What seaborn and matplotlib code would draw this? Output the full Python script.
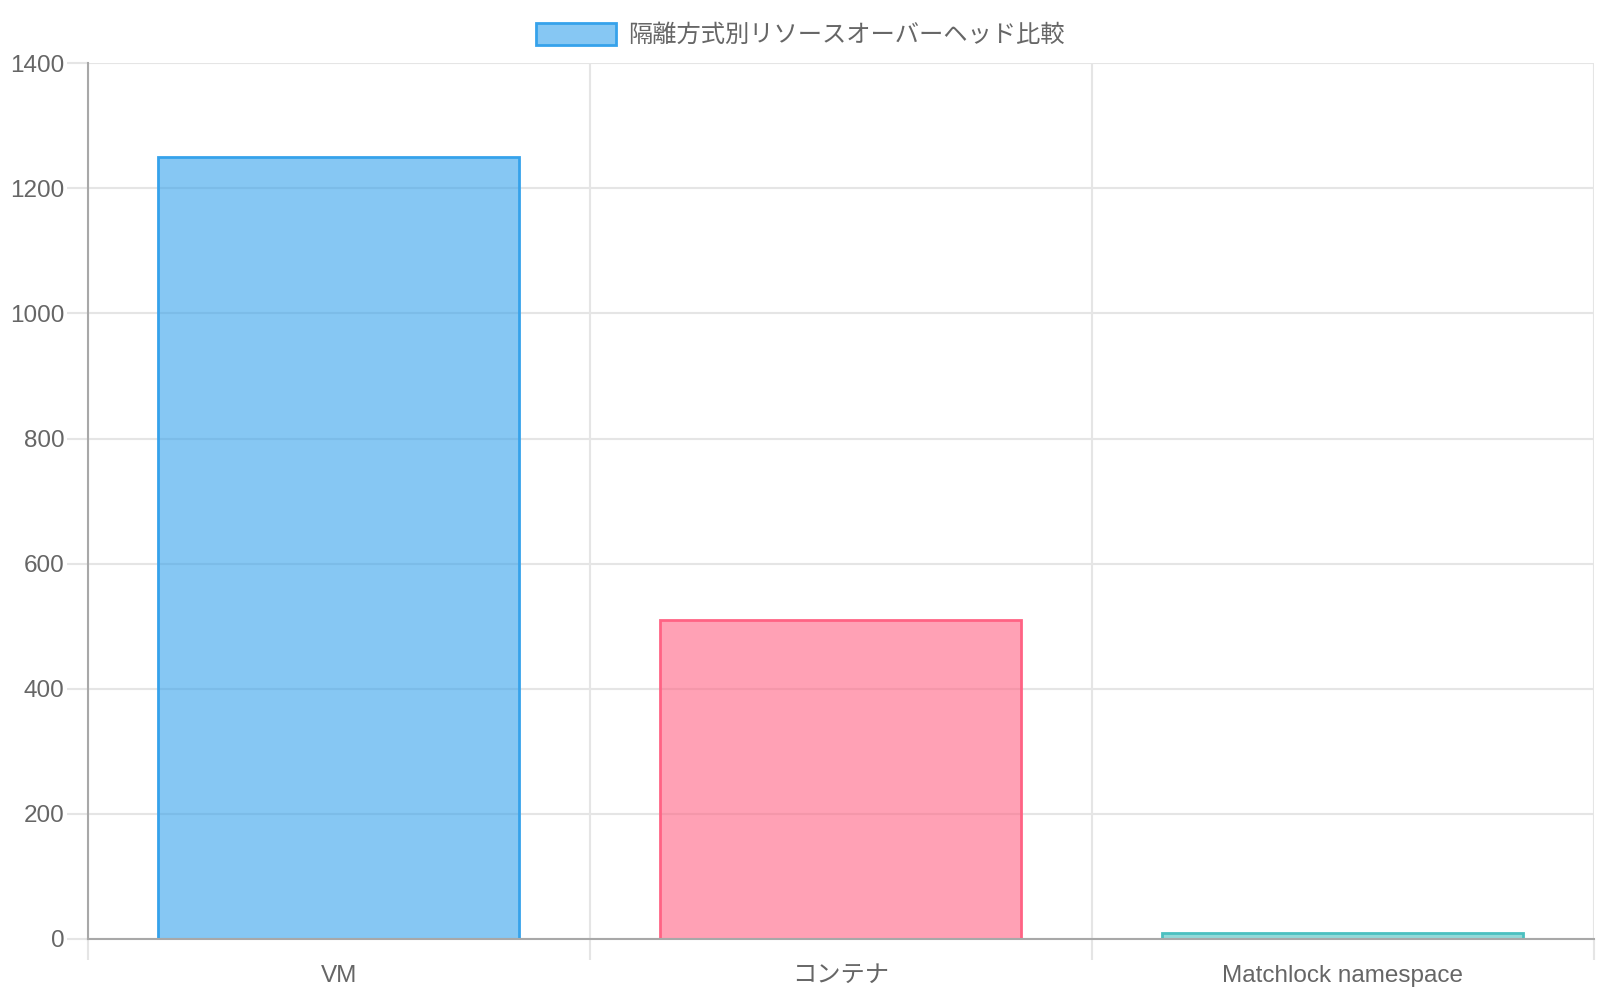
import matplotlib
matplotlib.use("Agg")
import matplotlib.pyplot as plt
import seaborn as sns
import pandas as pd
from matplotlib.colors import to_rgba
from matplotlib.patches import Patch
from matplotlib.ticker import FixedLocator

# Data
categories = ["VM", "コンテナ", "Matchlock namespace"]
values = [1250, 510, 10]
dataset_label = "隔離方式別リソースオーバーヘッド比較"

# Chart.js-like colours (fill at 0.6 alpha, solid border)
base_colors = ["#36A2EB", "#FF6384", "#4BC0C0"]

sns.set_theme(style="white")
plt.rcParams["font.family"] = ["Liberation Sans", "Noto Sans CJK JP", "DejaVu Sans"]

text_color = "#666666"
grid_color = "#E5E5E5"
axis_color = "#A8A8A8"
fs = 17.5

df = pd.DataFrame({"category": categories, "value": values})

fig = plt.figure(figsize=(16, 10), dpi=100)
ax = fig.add_axes([0.0549, 0.0612, 0.9411, 0.8755])

sns.barplot(data=df, x="category", y="value", hue="category",
            palette=base_colors, legend=False, width=0.72,
            saturation=1, ax=ax)
for patch, c in zip(ax.patches, base_colors):
    patch.set_alpha(None)
    patch.set_facecolor(to_rgba(c, 0.6))
    patch.set_edgecolor(c)
    patch.set_linewidth(2)

ax.set_xlim(-0.5, len(categories) - 0.5)
ax.set_ylim(0, 1400)
ax.set_yticks(range(0, 1401, 200))
ax.set_xlabel("")
ax.set_ylabel("")

# grid lines: horizontal at y ticks, vertical at category boundaries
ax.xaxis.set_minor_locator(FixedLocator([i - 0.5 for i in range(len(categories) + 1)]))
ax.grid(True, axis="y", which="major", color=grid_color, linewidth=1.5)
ax.grid(True, axis="x", which="minor", color=grid_color, linewidth=1.5)
ax.grid(False, axis="x", which="major")
ax.set_axisbelow(True)

for side in ["top", "right"]:
    ax.spines[side].set_visible(False)
for side in ["left", "bottom"]:
    ax.spines[side].set_color(axis_color)
    ax.spines[side].set_linewidth(1.5)

ax.tick_params(axis="y", which="major", length=15, width=1.5, color=grid_color,
               labelsize=fs, labelcolor=text_color, pad=2, left=True)
ax.tick_params(axis="x", which="major", length=0, labelsize=fs,
               labelcolor=text_color, pad=19, bottom=True)
ax.tick_params(axis="x", which="minor", length=15, width=1.5, color=grid_color,
               bottom=True)

handle = Patch(facecolor=to_rgba(base_colors[0], 0.6), edgecolor=base_colors[0], linewidth=2)
leg = fig.legend([handle], [dataset_label], loc="upper center",
                 bbox_to_anchor=(0.5, 0.999), frameon=False, fontsize=fs,
                 handlelength=3.3, handleheight=1.0, handletextpad=0.5)
for t in leg.get_texts():
    t.set_color(text_color)

fig.savefig("out.png", dpi=100, facecolor="white")
